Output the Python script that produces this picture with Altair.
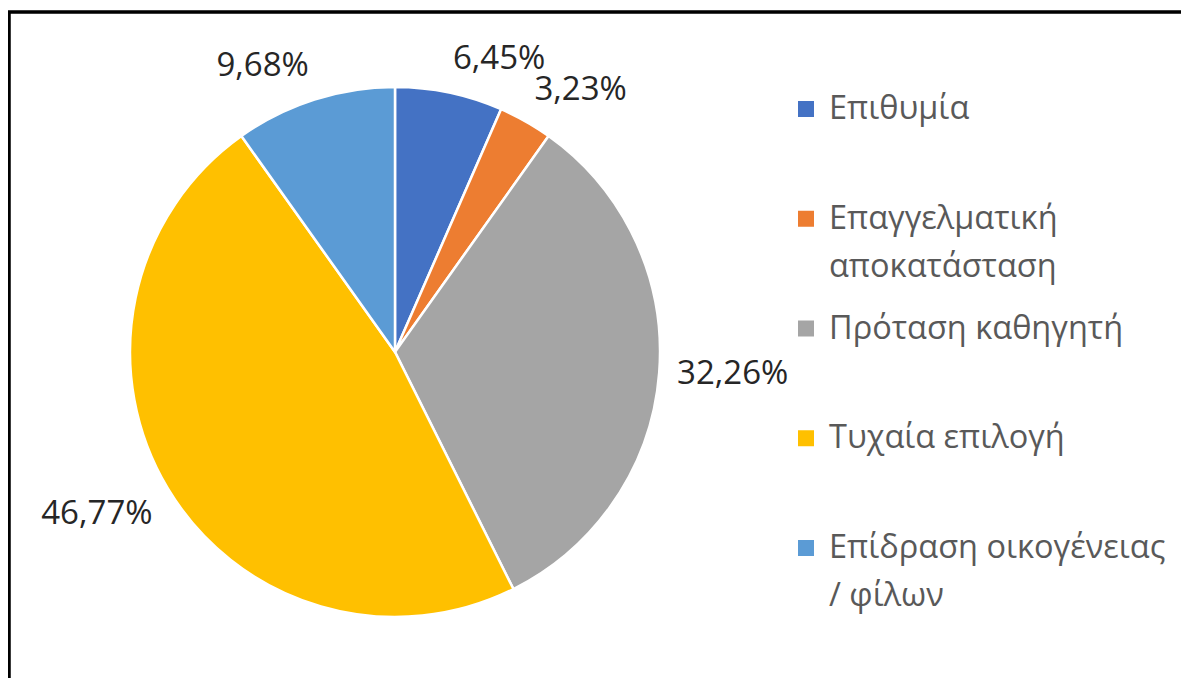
import altair as alt
import pandas as pd

categories = ["Επιθυμία", "Επαγγελματική αποκατάσταση", "Πρόταση καθηγητή",
              "Τυχαία επιλογή", "Επίδραση οικογένειας / φίλων"]
values = [6.45, 3.23, 32.26, 46.77, 9.68]
colors = ["#4472C4", "#ED7D31", "#A5A5A5", "#FFC000", "#5B9BD5"]
legend_labels = ["Επιθυμία", "Επαγγελματική\nαποκατάσταση", "Πρόταση καθηγητή",
                 "Τυχαία επιλογή", "Επίδραση οικογένειας\n/ φίλων"]

W, H = 1173, 670
CX, CY, R = 387, 344, 265
FONT = "Open Sans"

df = pd.DataFrame({
    "category": categories,
    "value": values,
    "idx": list(range(len(categories))),
    "line1": [s.split("\n")[0] for s in legend_labels],
    "line2": [s.split("\n")[1] if "\n" in s else "" for s in legend_labels],
})

color = alt.Color("category:N", scale=alt.Scale(domain=categories, range=colors), legend=None)

pie = alt.Chart(df).mark_arc(outerRadius=R, stroke="white", strokeWidth=2.5).encode(
    theta=alt.Theta("value:Q", stack=True),
    order=alt.Order("idx:Q"),
    color=color,
    x=alt.value(CX),
    y=alt.value(CY),
)

labels = alt.Chart(df).transform_joinaggregate(
    total="sum(value)"
).transform_window(
    cum="sum(value)", sort=[alt.SortField("idx")], frame=[None, 0]
).transform_calculate(
    mid="(datum.cum - datum.value/2) / datum.total * 2 * PI",
    label="replace(format(datum.value, '.2f'), '.', ',') + '%'",
).transform_calculate(
    s="sin(datum.mid)", c="cos(datum.mid)", w="length(datum.label) * 18.5",
).transform_calculate(
    lx=f"{CX} + {R + 18} * datum.s + (datum.s > 0.1 ? datum.w/2 : (datum.s < -0.1 ? -datum.w/2 : 0))",
    ly=f"{CY} - {R + 18} * datum.c + (datum.c > 0.3 ? -16 : (datum.c < -0.3 ? 16 : 0))",
).mark_text(font=FONT, fontSize=33, color="#262626", align="center", baseline="middle").encode(
    x=alt.X("lx:Q", scale=None),
    y=alt.Y("ly:Q", scale=None),
    text="label:N",
)

ypos = alt.Y("category:N", scale=alt.Scale(domain=categories, range=[101, 540], padding=0),
             axis=None)

leg_sym = alt.Chart(df).mark_square(size=256, opacity=1).encode(
    x=alt.value(798), y=ypos, color=color,
)
leg_t1 = alt.Chart(df).mark_text(font=FONT, fontSize=32.5, color="#595959", align="left",
                                 baseline="middle").encode(
    x=alt.value(821), y=ypos, text="line1:N",
)
leg_t2 = alt.Chart(df).mark_text(font=FONT, fontSize=32.5, color="#595959", align="left",
                                 baseline="middle", dy=48).encode(
    x=alt.value(821), y=ypos, text="line2:N",
)

frame_top = alt.Chart(df).mark_rule(color="black", strokeWidth=2.5).encode(
    x=alt.value(0), x2=alt.value(W), y=alt.value(4),
)
frame_left = alt.Chart(df).mark_rule(color="black", strokeWidth=2.5).encode(
    x=alt.value(1), y=alt.value(3), y2=alt.value(H),
)

chart = alt.layer(pie, labels, leg_sym, leg_t1, leg_t2, frame_top, frame_left).properties(
    width=W, height=H, padding=0, autosize=alt.AutoSizeParams(type="none"),
).resolve_scale(y="independent").configure_view(stroke=None)

chart.save("out.html", embed_options={"renderer": "svg", "actions": False})
